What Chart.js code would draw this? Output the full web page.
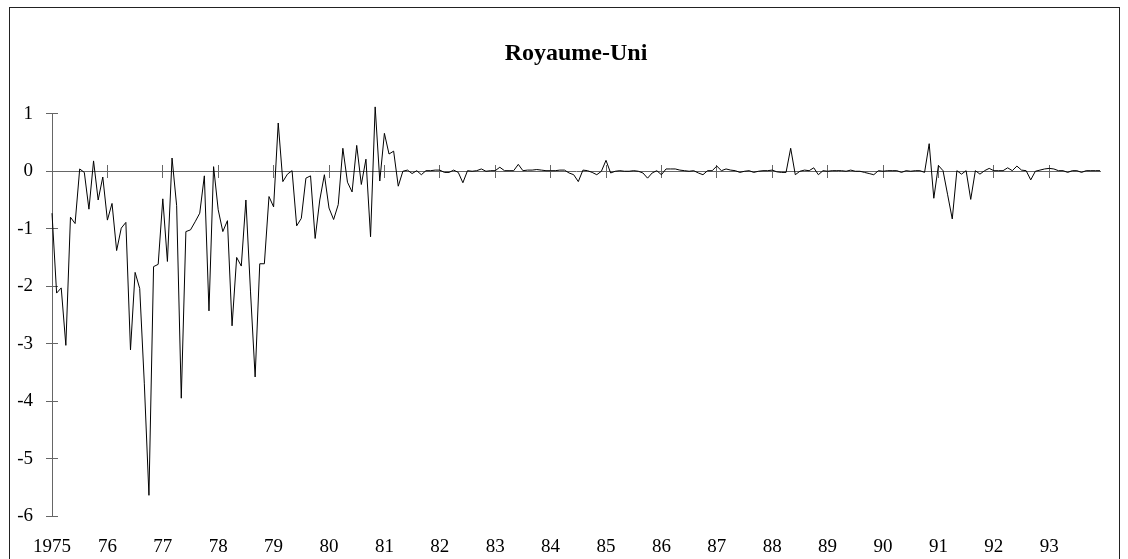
<!DOCTYPE html>
<html>
<head>
<meta charset="utf-8">
<title>Royaume-Uni</title>
<script src="https://cdn.jsdelivr.net/npm/chart.js@4.4.1/dist/chart.umd.min.js"></script>
<style>
  html, body { margin: 0; padding: 0; background: #fff; }
  canvas { display: block; }
</style>
</head>
<body>
<canvas id="myChart" width="1128" height="559"></canvas>
<script>
// monthly values, one array per year (Jan..Dec)
const y1975 = [-0.73, -2.12, -2.03, -3.03, -0.80, -0.91, 0.04, -0.02, -0.66, 0.18, -0.50, -0.10];
const y1976 = [-0.85, -0.56, -1.38, -0.99, -0.89, -3.11, -1.76, -2.04, -3.70, -5.64, -1.66, -1.62];
const y1977 = [-0.48, -1.57, 0.23, -0.60, -3.95, -1.05, -1.02, -0.88, -0.73, -0.08, -2.43, 0.08];
const y1978 = [-0.67, -1.05, -0.86, -2.69, -1.50, -1.65, -0.50, -2.10, -3.58, -1.61, -1.61, -0.44];
const y1979 = [-0.62, 0.84, -0.18, -0.05, 0.01, -0.95, -0.82, -0.12, -0.08, -1.17, -0.50, -0.06];
const y1980 = [-0.64, -0.84, -0.58, 0.40, -0.19, -0.36, 0.45, -0.23, 0.21, -1.14, 1.12, -0.17];
const y1981 = [0.66, 0.30, 0.35, -0.26, 0.00, 0.02, -0.04, 0.01, -0.06, 0.01, 0.01, 0.02];
const y1982 = [0.02, -0.02, -0.02, 0.02, -0.02, -0.20, 0.01, 0.00, 0.01, 0.04, 0.00, 0.01];
const y1983 = [0.01, 0.07, 0.01, 0.01, 0.01, 0.12, 0.01, 0.02, 0.02, 0.03, 0.02, 0.01];
const y1984 = [0.01, 0.01, 0.02, 0.02, -0.03, -0.06, -0.18, 0.02, 0.01, -0.02, -0.06, 0.00];
const y1985 = [0.19, -0.03, 0.00, 0.01, 0.00, 0.00, 0.01, 0.00, -0.03, -0.12, -0.03, 0.01];
const y1986 = [-0.06, 0.04, 0.04, 0.04, 0.02, 0.01, 0.00, 0.01, -0.03, -0.06, 0.01, 0.01];
const y1987 = [0.09, 0.01, 0.04, 0.02, 0.01, -0.02, 0.00, 0.01, -0.02, 0.00, 0.01, 0.01];
const y1988 = [0.02, -0.01, -0.02, -0.02, 0.40, -0.06, 0.00, 0.02, 0.01, 0.06, -0.06, 0.01];
const y1989 = [0.00, 0.01, 0.01, 0.01, 0.00, 0.02, 0.00, 0.00, -0.02, -0.04, -0.06, 0.01];
const y1990 = [0.00, 0.01, 0.01, 0.01, -0.02, 0.01, 0.00, 0.01, 0.01, -0.02, 0.48, -0.47];
const y1991 = [0.10, 0.01, -0.41, -0.83, 0.01, -0.05, 0.01, -0.49, 0.01, -0.05, 0.01, 0.05];
const y1992 = [0.01, 0.01, 0.01, 0.06, 0.01, 0.09, 0.02, 0.01, -0.15, 0.00, 0.02, 0.04];
const y1993 = [0.05, 0.04, 0.01, 0.01, -0.02, 0.01, 0.01, -0.02, 0.01, 0.01, 0.01, 0.01];

const yearLabels = ['1975', '76', '77', '78', '79', '80', '81', '82', '83', '84',
                    '85', '86', '87', '88', '89', '90', '91', '92', '93'];
const yTicks = [1, 0, -1, -2, -3, -4, -5, -6];

const values = [].concat(y1975, y1976, y1977, y1978, y1979, y1980, y1981, y1982, y1983,
  y1984, y1985, y1986, y1987, y1988, y1989, y1990, y1991, y1992, y1993);
const points = values.map((v, i) => ({x: i, y: v}));
const yearTicks = yearLabels.map((l, k) => k * 12);

const serif = "'Liberation Serif', 'Times New Roman', serif";
const axisColor = '#666666';
const lastIdx = values.length - 1;

const setYearTicks = s => { s.ticks = yearTicks.map(v => ({value: v})); };
const setYTicks = s => { s.ticks = yTicks.map(v => ({value: v})); };

// thin frame round the whole picture
const frame = {
  id: 'frame',
  beforeDraw(chart) {
    const c = chart.ctx;
    c.save();
    c.strokeStyle = '#222';
    c.lineWidth = 1;
    c.strokeRect(9.5, 7.5, 1110, 570);
    c.restore();
  }
};

const ctx = document.getElementById('myChart').getContext('2d');
const myChart = new Chart(ctx, {
  type: 'line',
  data: {
    datasets: [{
      label: 'Royaume-Uni',
      data: points,
      borderColor: '#000',
      borderWidth: 1,
      pointRadius: 0,
      tension: 0,
      clip: false
    }]
  },
  options: {
    responsive: false,
    animation: false,
    devicePixelRatio: 1,
    layout: { padding: { top: 39, left: 0, right: 28, bottom: 0 } },
    plugins: {
      legend: { display: false },
      tooltip: { enabled: false },
      title: {
        display: true,
        text: 'Royaume-Uni',
        fullSize: false,
        color: '#000',
        font: { family: serif, size: 24, weight: 'bold' },
        padding: { top: 0, bottom: 46 }
      }
    },
    scales: {
      x: {
        type: 'linear', min: 0, max: lastIdx, position: { y: 0 },
        afterBuildTicks: setYearTicks,
        ticks: { display: false },
        grid: { drawOnChartArea: false, tickLength: 6, color: axisColor },
        border: { color: axisColor, width: 1 }
      },
      xUp: {
        type: 'linear', min: 0, max: lastIdx, position: { y: 0 },
        afterBuildTicks: setYearTicks,
        ticks: { display: false },
        grid: { drawOnChartArea: false, tickLength: -6, color: axisColor },
        border: { display: false }
      },
      xLab: {
        type: 'linear', min: 0, max: lastIdx, position: 'bottom',
        afterBuildTicks: setYearTicks,
        afterFit: s => { s.height = 43; },
        grid: { display: false, drawTicks: false },
        border: { display: false },
        ticks: {
          padding: 20, maxRotation: 0, autoSkip: false, color: '#000',
          font: { family: serif, size: 19 },
          callback: (v, i) => yearLabels[i]
        }
      },
      y: {
        type: 'linear', min: -6, max: 1, position: 'left',
        afterBuildTicks: setYTicks,
        afterFit: s => { s.width = 52; },
        ticks: { padding: 13, color: '#000', font: { family: serif, size: 19 }, callback: v => String(v) },
        grid: { drawOnChartArea: false, tickLength: 6, color: axisColor },
        border: { color: axisColor, width: 1 }
      },
      yIn: {
        type: 'linear', min: -6, max: 1, position: { x: 0 },
        afterBuildTicks: setYTicks,
        ticks: { display: false },
        grid: { drawOnChartArea: false, tickLength: -6, color: axisColor },
        border: { display: false }
      }
    }
  },
  plugins: [frame]
});
</script>
</body>
</html>
